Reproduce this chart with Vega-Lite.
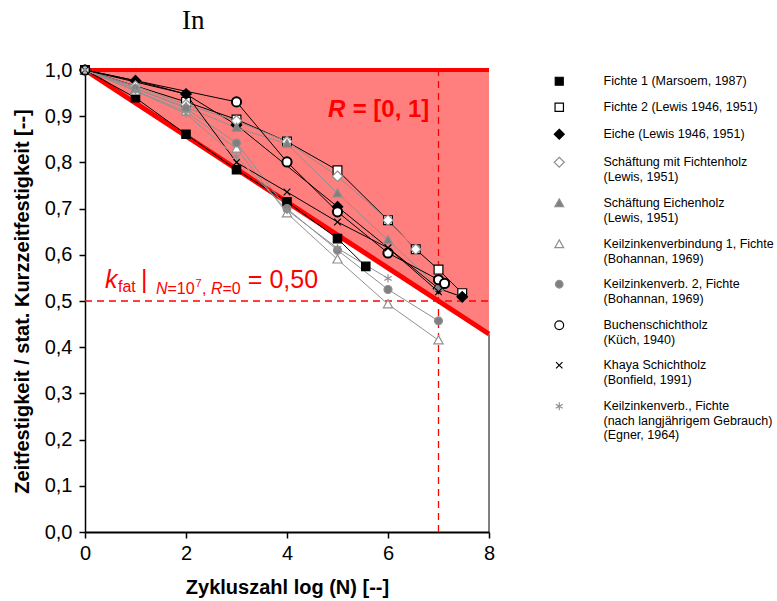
{
  "$schema": "https://vega.github.io/schema/vega-lite/v6.json",
  "width": 404,
  "height": 462,
  "autosize": {"type": "none"},
  "padding": {"left": 85, "top": 70, "right": 288, "bottom": 69},
  "background": "white",
  "config": {"font": "Liberation Sans", "view": {"stroke": null}},
  "datasets": {
    "limit": [{"logN": 0, "k": 1}, {"logN": 8, "k": 0.4286}],
    "series": [
      {"series": "Fichte 1 (Marsoem, 1987)", "logN": 0, "k": 1},
      {"series": "Fichte 1 (Marsoem, 1987)", "logN": 1, "k": 0.94},
      {"series": "Fichte 1 (Marsoem, 1987)", "logN": 2, "k": 0.861},
      {"series": "Fichte 1 (Marsoem, 1987)", "logN": 3, "k": 0.784},
      {"series": "Fichte 1 (Marsoem, 1987)", "logN": 4, "k": 0.715},
      {"series": "Fichte 1 (Marsoem, 1987)", "logN": 5, "k": 0.635},
      {"series": "Fichte 1 (Marsoem, 1987)", "logN": 5.56, "k": 0.575},
      {"series": "Fichte 2 (Lewis 1946, 1951)", "logN": 0, "k": 1},
      {"series": "Fichte 2 (Lewis 1946, 1951)", "logN": 2, "k": 0.931},
      {"series": "Fichte 2 (Lewis 1946, 1951)", "logN": 3, "k": 0.893},
      {"series": "Fichte 2 (Lewis 1946, 1951)", "logN": 4, "k": 0.845},
      {"series": "Fichte 2 (Lewis 1946, 1951)", "logN": 5, "k": 0.783},
      {"series": "Fichte 2 (Lewis 1946, 1951)", "logN": 6, "k": 0.675},
      {"series": "Fichte 2 (Lewis 1946, 1951)", "logN": 6.55, "k": 0.612},
      {"series": "Fichte 2 (Lewis 1946, 1951)", "logN": 7, "k": 0.568},
      {"series": "Fichte 2 (Lewis 1946, 1951)", "logN": 7.47, "k": 0.517},
      {"series": "Eiche (Lewis 1946, 1951)", "logN": 0, "k": 1},
      {"series": "Eiche (Lewis 1946, 1951)", "logN": 1, "k": 0.977},
      {"series": "Eiche (Lewis 1946, 1951)", "logN": 2, "k": 0.948},
      {"series": "Eiche (Lewis 1946, 1951)", "logN": 3, "k": 0.881},
      {"series": "Eiche (Lewis 1946, 1951)", "logN": 5, "k": 0.704},
      {"series": "Eiche (Lewis 1946, 1951)", "logN": 7, "k": 0.527},
      {"series": "Eiche (Lewis 1946, 1951)", "logN": 7.47, "k": 0.509},
      {"series": "Schäftung mit Fichtenholz\n(Lewis, 1951)", "logN": 0, "k": 1},
      {"series": "Schäftung mit Fichtenholz\n(Lewis, 1951)", "logN": 1, "k": 0.965},
      {"series": "Schäftung mit Fichtenholz\n(Lewis, 1951)", "logN": 2, "k": 0.925},
      {"series": "Schäftung mit Fichtenholz\n(Lewis, 1951)", "logN": 3, "k": 0.89},
      {"series": "Schäftung mit Fichtenholz\n(Lewis, 1951)", "logN": 4, "k": 0.845},
      {"series": "Schäftung mit Fichtenholz\n(Lewis, 1951)", "logN": 5, "k": 0.77},
      {"series": "Schäftung mit Fichtenholz\n(Lewis, 1951)", "logN": 6, "k": 0.675},
      {"series": "Schäftung mit Fichtenholz\n(Lewis, 1951)", "logN": 6.55, "k": 0.612},
      {"series": "Schäftung Eichenholz\n(Lewis, 1951)", "logN": 0, "k": 1},
      {"series": "Schäftung Eichenholz\n(Lewis, 1951)", "logN": 1, "k": 0.96},
      {"series": "Schäftung Eichenholz\n(Lewis, 1951)", "logN": 2, "k": 0.92},
      {"series": "Schäftung Eichenholz\n(Lewis, 1951)", "logN": 3, "k": 0.875},
      {"series": "Schäftung Eichenholz\n(Lewis, 1951)", "logN": 4, "k": 0.84},
      {"series": "Schäftung Eichenholz\n(Lewis, 1951)", "logN": 5, "k": 0.733},
      {"series": "Schäftung Eichenholz\n(Lewis, 1951)", "logN": 6, "k": 0.632},
      {"series": "Schäftung Eichenholz\n(Lewis, 1951)", "logN": 7, "k": 0.53},
      {"series": "Keilzinkenverbindung 1, Fichte\n(Bohannan, 1969)", "logN": 0, "k": 1},
      {"series": "Keilzinkenverbindung 1, Fichte\n(Bohannan, 1969)", "logN": 1, "k": 0.955},
      {"series": "Keilzinkenverbindung 1, Fichte\n(Bohannan, 1969)", "logN": 2, "k": 0.91},
      {"series": "Keilzinkenverbindung 1, Fichte\n(Bohannan, 1969)", "logN": 3, "k": 0.83},
      {"series": "Keilzinkenverbindung 1, Fichte\n(Bohannan, 1969)", "logN": 4, "k": 0.69},
      {"series": "Keilzinkenverbindung 1, Fichte\n(Bohannan, 1969)", "logN": 5, "k": 0.59},
      {"series": "Keilzinkenverbindung 1, Fichte\n(Bohannan, 1969)", "logN": 6, "k": 0.493},
      {"series": "Keilzinkenverbindung 1, Fichte\n(Bohannan, 1969)", "logN": 7, "k": 0.415},
      {"series": "Keilzinkenverb. 2, Fichte\n(Bohannan, 1969)", "logN": 0, "k": 1},
      {"series": "Keilzinkenverb. 2, Fichte\n(Bohannan, 1969)", "logN": 1, "k": 0.96},
      {"series": "Keilzinkenverb. 2, Fichte\n(Bohannan, 1969)", "logN": 2, "k": 0.917},
      {"series": "Keilzinkenverb. 2, Fichte\n(Bohannan, 1969)", "logN": 3, "k": 0.842},
      {"series": "Keilzinkenverb. 2, Fichte\n(Bohannan, 1969)", "logN": 4, "k": 0.7},
      {"series": "Keilzinkenverb. 2, Fichte\n(Bohannan, 1969)", "logN": 5, "k": 0.61},
      {"series": "Keilzinkenverb. 2, Fichte\n(Bohannan, 1969)", "logN": 6, "k": 0.525},
      {"series": "Keilzinkenverb. 2, Fichte\n(Bohannan, 1969)", "logN": 7, "k": 0.457},
      {"series": "Buchenschichtholz\n(Küch, 1940)", "logN": 0, "k": 1},
      {"series": "Buchenschichtholz\n(Küch, 1940)", "logN": 3, "k": 0.931},
      {"series": "Buchenschichtholz\n(Küch, 1940)", "logN": 4, "k": 0.801},
      {"series": "Buchenschichtholz\n(Küch, 1940)", "logN": 5, "k": 0.693},
      {"series": "Buchenschichtholz\n(Küch, 1940)", "logN": 6, "k": 0.604},
      {"series": "Buchenschichtholz\n(Küch, 1940)", "logN": 7, "k": 0.546},
      {"series": "Buchenschichtholz\n(Küch, 1940)", "logN": 7.12, "k": 0.538},
      {"series": "Khaya Schichtholz\n(Bonfield, 1991)", "logN": 0, "k": 1},
      {"series": "Khaya Schichtholz\n(Bonfield, 1991)", "logN": 2, "k": 0.948},
      {"series": "Khaya Schichtholz\n(Bonfield, 1991)", "logN": 3, "k": 0.8},
      {"series": "Khaya Schichtholz\n(Bonfield, 1991)", "logN": 4, "k": 0.736},
      {"series": "Khaya Schichtholz\n(Bonfield, 1991)", "logN": 5, "k": 0.671},
      {"series": "Khaya Schichtholz\n(Bonfield, 1991)", "logN": 6, "k": 0.615},
      {"series": "Khaya Schichtholz\n(Bonfield, 1991)", "logN": 7, "k": 0.52},
      {"series": "Keilzinkenverb., Fichte\n(nach langjährigem Gebrauch)\n(Egner, 1964)", "logN": 0, "k": 1},
      {"series": "Keilzinkenverb., Fichte\n(nach langjährigem Gebrauch)\n(Egner, 1964)", "logN": 1, "k": 0.955},
      {"series": "Keilzinkenverb., Fichte\n(nach langjährigem Gebrauch)\n(Egner, 1964)", "logN": 2, "k": 0.905},
      {"series": "Keilzinkenverb., Fichte\n(nach langjährigem Gebrauch)\n(Egner, 1964)", "logN": 3, "k": 0.812},
      {"series": "Keilzinkenverb., Fichte\n(nach langjährigem Gebrauch)\n(Egner, 1964)", "logN": 4, "k": 0.697},
      {"series": "Keilzinkenverb., Fichte\n(nach langjährigem Gebrauch)\n(Egner, 1964)", "logN": 5, "k": 0.614},
      {"series": "Keilzinkenverb., Fichte\n(nach langjährigem Gebrauch)\n(Egner, 1964)", "logN": 6, "k": 0.549}
    ]
  },
  "layer": [
    {
      "data": {"name": "limit"},
      "mark": {"type": "area", "color": "#ff0000", "opacity": 0.5},
      "encoding": {
        "x": {"field": "logN", "type": "quantitative", "scale": {"domain": [0, 8], "nice": false},
          "axis": {"title": "Zykluszahl log (N) [--]", "values": [0, 2, 4, 6, 8], "grid": false, "labelFontSize": 20, "labelColor": "#000", "titleFontSize": 20, "titleFontWeight": "bold", "titleColor": "#000", "domainColor": "#000", "domainWidth": 2, "tickColor": "#000", "tickWidth": 1.5, "tickSize": 6, "labelPadding": 5, "titlePadding": 14, "labelFlush": false, "labelOverlap": false}},
        "y": {"field": "k", "type": "quantitative", "scale": {"domain": [0, 1], "nice": false},
          "axis": {"title": "Zeitfestigkeit / stat. Kurzzeitfestigkeit [--]", "values": [0, 0.1, 0.2, 0.3, 0.4, 0.5, 0.6, 0.7, 0.8, 0.9, 1], "labelExpr": "replace(format(datum.value, '.1f'), '.', ',')", "grid": false, "labelFontSize": 20, "labelColor": "#000", "titleFontSize": 20, "titleFontWeight": "bold", "titleColor": "#000", "domainColor": "#000", "domainWidth": 1.5, "tickColor": "#000", "tickWidth": 1.5, "tickSize": 6, "labelPadding": 7, "titlePadding": 12, "labelFlush": false, "labelOverlap": false}},
        "y2": {"datum": 1}
      }
    },
    {
      "data": {"values": [{}]},
      "mark": {"type": "rule", "color": "#ff0000", "strokeWidth": 1.3, "strokeDash": [7, 5]},
      "encoding": {"y": {"datum": 0.5}, "x": {"datum": 0}, "x2": {"datum": 8}}
    },
    {
      "data": {"values": [{}]},
      "mark": {"type": "rule", "color": "#ff0000", "strokeWidth": 1.3, "strokeDash": [7, 5]},
      "encoding": {"x": {"datum": 7}, "y": {"datum": 0}, "y2": {"datum": 1}}
    },
    {
      "data": {"values": [{}]},
      "mark": {"type": "rule", "color": "#000", "strokeWidth": 1},
      "encoding": {"x": {"datum": 8}, "y": {"datum": 0}, "y2": {"datum": 0.4286}}
    },
    {
      "data": {"name": "limit"},
      "mark": {"type": "line", "color": "#ff0000", "strokeWidth": 5},
      "encoding": {"x": {"field": "logN", "type": "quantitative"}, "y": {"field": "k", "type": "quantitative"}}
    },
    {
      "data": {"values": [{}]},
      "mark": {"type": "rule", "color": "#ff0000", "strokeWidth": 4},
      "encoding": {"y": {"datum": 1}, "x": {"datum": 0}, "x2": {"datum": 8}}
    },
    {
      "data": {"name": "series"},
      "mark": {"type": "line", "strokeWidth": 1},
      "encoding": {
        "x": {"field": "logN", "type": "quantitative"},
        "y": {"field": "k", "type": "quantitative"},
        "detail": {"field": "series"},
        "stroke": {"field": "series", "type": "nominal"}
      }
    },
    {
      "data": {"name": "series"},
      "mark": {"type": "point", "size": 70, "opacity": 1},
      "encoding": {
        "x": {"field": "logN", "type": "quantitative"},
        "y": {"field": "k", "type": "quantitative"},
        "shape": {"field": "series", "type": "nominal", "legend": null,
          "scale": {
            "domain": ["Fichte 1 (Marsoem, 1987)", "Fichte 2 (Lewis 1946, 1951)", "Eiche (Lewis 1946, 1951)", "Schäftung mit Fichtenholz\n(Lewis, 1951)", "Schäftung Eichenholz\n(Lewis, 1951)", "Keilzinkenverbindung 1, Fichte\n(Bohannan, 1969)", "Keilzinkenverb. 2, Fichte\n(Bohannan, 1969)", "Buchenschichtholz\n(Küch, 1940)", "Khaya Schichtholz\n(Bonfield, 1991)", "Keilzinkenverb., Fichte\n(nach langjährigem Gebrauch)\n(Egner, 1964)"],
            "range": ["M-1,-1L1,-1L1,1L-1,1Z", "M-1.05,-1.05L1.05,-1.05L1.05,1.05L-1.05,1.05Z", "M0,-1.25L1.25,0L0,1.25L-1.25,0Z", "M0,-1.25L1.25,0L0,1.25L-1.25,0Z", "M0,-1.1L1.1,0.85L-1.1,0.85Z", "M0,-1.1L1.1,0.85L-1.1,0.85Z", "M0.95,0A0.95,0.95,0,1,1,-0.95,0A0.95,0.95,0,1,1,0.95,0Z", "M1.1,0A1.1,1.1,0,1,1,-1.1,0A1.1,1.1,0,1,1,1.1,0Z", "M-0.8,-0.8L0.8,0.8M-0.8,0.8L0.8,-0.8", "M0,-1L0,1M-0.87,-0.5L0.87,0.5M-0.87,0.5L0.87,-0.5"]
          }
        },
        "fill": {"field": "series", "type": "nominal",
          "scale": {
            "domain": ["Fichte 1 (Marsoem, 1987)", "Fichte 2 (Lewis 1946, 1951)", "Eiche (Lewis 1946, 1951)", "Schäftung mit Fichtenholz\n(Lewis, 1951)", "Schäftung Eichenholz\n(Lewis, 1951)", "Keilzinkenverbindung 1, Fichte\n(Bohannan, 1969)", "Keilzinkenverb. 2, Fichte\n(Bohannan, 1969)", "Buchenschichtholz\n(Küch, 1940)", "Khaya Schichtholz\n(Bonfield, 1991)", "Keilzinkenverb., Fichte\n(nach langjährigem Gebrauch)\n(Egner, 1964)"],
            "range": ["#000000", "#ffffff", "#000000", "#ffffff", "#808080", "#ffffff", "#808080", "#ffffff", "#000000", "#808080"]}},
        "stroke": {"field": "series", "type": "nominal",
          "scale": {
            "domain": ["Fichte 1 (Marsoem, 1987)", "Fichte 2 (Lewis 1946, 1951)", "Eiche (Lewis 1946, 1951)", "Schäftung mit Fichtenholz\n(Lewis, 1951)", "Schäftung Eichenholz\n(Lewis, 1951)", "Keilzinkenverbindung 1, Fichte\n(Bohannan, 1969)", "Keilzinkenverb. 2, Fichte\n(Bohannan, 1969)", "Buchenschichtholz\n(Küch, 1940)", "Khaya Schichtholz\n(Bonfield, 1991)", "Keilzinkenverb., Fichte\n(nach langjährigem Gebrauch)\n(Egner, 1964)"],
            "range": ["#000000", "#000000", "#000000", "#909090", "#909090", "#909090", "#909090", "#000000", "#000000", "#909090"]},
          "legend": {
            "title": null, "orient": "none", "legendX": 468, "legendY": 5,
            "labelFont": "Liberation Sans", "labelFontSize": 12.5, "labelColor": "#000", "labelLimit": 300,
            "labelOffset": 38, "symbolSize": 64, "symbolStrokeWidth": 1.2, "rowPadding": 12,
            "labelExpr": "split(datum.label, '\\n')",
            "encode": {
              "symbols": {"shape": {"value": {"expr": "scale('shape', datum.value) + ' M-5,0L-1,0M1,0L5,0'"}}},
              "labels": {"lineHeight": {"value": 15}}
            }
          }
        },
        "strokeWidth": {"condition": {"test": "indexof(datum.series, 'Buchen') === 0", "value": 2}, "value": 1.2}
      }
    },
    {
      "data": {"values": [{}]},
      "mark": {"type": "text", "color": "#000", "font": "Liberation Serif", "fontSize": 27, "align": "left", "baseline": "alphabetic"},
      "encoding": {"x": {"datum": 1.92}, "y": {"datum": 1.0888}, "text": {"value": "In"}}
    },
    {
      "data": {"values": [{}]},
      "mark": {"type": "text", "color": "#ff0000", "fontSize": 24, "fontWeight": "bold", "fontStyle": "italic", "align": "left", "baseline": "alphabetic"},
      "encoding": {"x": {"datum": 4.81}, "y": {"datum": 0.898}, "text": {"value": "R"}}
    },
    {
      "data": {"values": [{}]},
      "mark": {"type": "text", "color": "#ff0000", "fontSize": 24, "fontWeight": "bold", "align": "left", "baseline": "alphabetic"},
      "encoding": {"x": {"datum": 5.3}, "y": {"datum": 0.898}, "text": {"value": "= [0, 1]"}}
    },
    {
      "data": {"values": [{}]},
      "mark": {"type": "text", "color": "#ff0000", "fontSize": 25, "fontStyle": "italic", "align": "left", "baseline": "alphabetic"},
      "encoding": {"x": {"datum": 0.396}, "y": {"datum": 0.529}, "text": {"value": "k"}}
    },
    {
      "data": {"values": [{}]},
      "mark": {"type": "text", "color": "#ff0000", "fontSize": 16, "align": "left", "baseline": "alphabetic"},
      "encoding": {"x": {"datum": 0.653}, "y": {"datum": 0.5196}, "text": {"value": "fat"}}
    },
    {
      "data": {"values": [{}]},
      "mark": {"type": "text", "color": "#ff0000", "fontSize": 25, "align": "left", "baseline": "alphabetic"},
      "encoding": {"x": {"datum": 1.108}, "y": {"datum": 0.529}, "text": {"value": "|"}}
    },
    {
      "data": {"values": [{}]},
      "mark": {"type": "text", "color": "#ff0000", "fontSize": 16, "fontStyle": "italic", "align": "left", "baseline": "alphabetic"},
      "encoding": {"x": {"datum": 1.405}, "y": {"datum": 0.516}, "text": {"value": "N"}}
    },
    {
      "data": {"values": [{}]},
      "mark": {"type": "text", "color": "#ff0000", "fontSize": 16, "align": "left", "baseline": "alphabetic"},
      "encoding": {"x": {"datum": 1.634}, "y": {"datum": 0.516}, "text": {"value": "=10"}}
    },
    {
      "data": {"values": [{}]},
      "mark": {"type": "text", "color": "#ff0000", "fontSize": 11, "align": "left", "baseline": "alphabetic"},
      "encoding": {"x": {"datum": 2.186}, "y": {"datum": 0.531}, "text": {"value": "7"}}
    },
    {
      "data": {"values": [{}]},
      "mark": {"type": "text", "color": "#ff0000", "fontSize": 16, "align": "left", "baseline": "alphabetic"},
      "encoding": {"x": {"datum": 2.315}, "y": {"datum": 0.516}, "text": {"value": ","}}
    },
    {
      "data": {"values": [{}]},
      "mark": {"type": "text", "color": "#ff0000", "fontSize": 16, "fontStyle": "italic", "align": "left", "baseline": "alphabetic"},
      "encoding": {"x": {"datum": 2.493}, "y": {"datum": 0.516}, "text": {"value": "R"}}
    },
    {
      "data": {"values": [{}]},
      "mark": {"type": "text", "color": "#ff0000", "fontSize": 16, "align": "left", "baseline": "alphabetic"},
      "encoding": {"x": {"datum": 2.721}, "y": {"datum": 0.516}, "text": {"value": "=0"}}
    },
    {
      "data": {"values": [{}]},
      "mark": {"type": "text", "color": "#ff0000", "fontSize": 25, "align": "left", "baseline": "alphabetic"},
      "encoding": {"x": {"datum": 3.225}, "y": {"datum": 0.529}, "text": {"value": "= 0,50"}}
    }
  ]
}
